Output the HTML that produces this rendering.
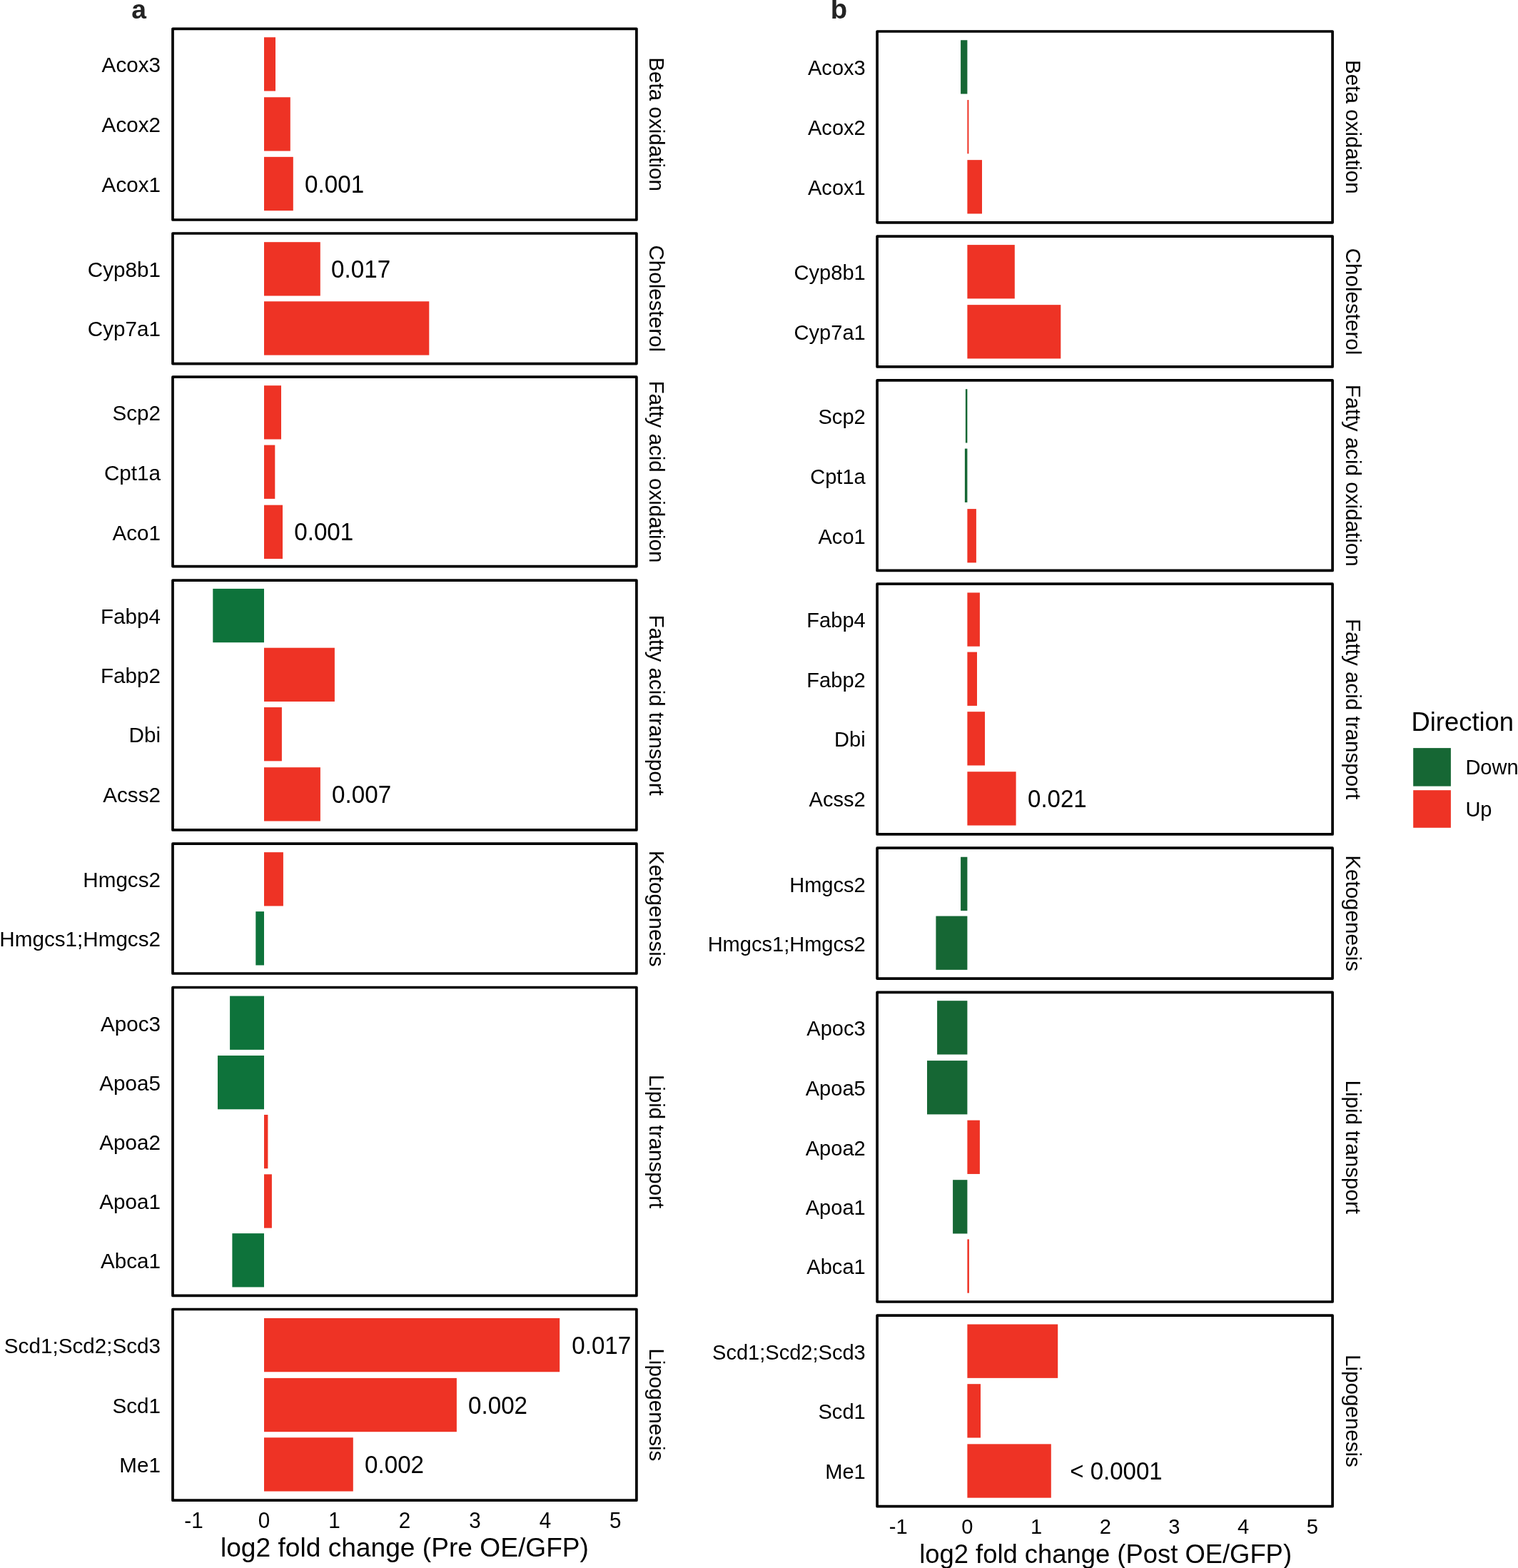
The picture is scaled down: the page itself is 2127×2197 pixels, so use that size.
<!DOCTYPE html>
<html><head><meta charset="utf-8"><title>log2 fold change</title>
<style>html,body{margin:0;padding:0;background:#fff;overflow:hidden;}svg{display:block;}text{font-family:'Liberation Sans', Arial, Helvetica, sans-serif;fill:#000;}</style>
</head><body>
<svg width="2127" height="2197" viewBox="0 0 2127 2197">
<rect x="0" y="0" width="2127" height="2197" fill="#fff"/>
<g id="panel-a">
<rect x="370" y="52.25" width="16" height="75.3" fill="#EE3325"/>
<text transform="translate(225 101.2) scale(1 1.02)" font-size="29.65" text-anchor="end">Acox3</text>
<rect x="370" y="136.25" width="36.8" height="75.3" fill="#EE3325"/>
<text transform="translate(225 185.2) scale(1 1.02)" font-size="29.65" text-anchor="end">Acox2</text>
<rect x="370" y="219.85" width="40.8" height="75.3" fill="#EE3325"/>
<text transform="translate(225 268.8) scale(1 1.02)" font-size="29.65" text-anchor="end">Acox1</text>
<text transform="translate(427.11 269.6) scale(1 1.04)" font-size="33.2">0.001</text>
<rect x="242" y="40.3" width="649.9" height="267.7" fill="none" stroke="#000" stroke-width="3.7" stroke-linejoin="round"/>
<text transform="translate(910.2 174.15) rotate(90)" font-size="29.6" text-anchor="middle">Beta oxidation</text>
<rect x="370" y="339.2" width="78.8" height="75.3" fill="#EE3325"/>
<text transform="translate(225 388.15) scale(1 1.02)" font-size="29.65" text-anchor="end">Cyp8b1</text>
<text transform="translate(464.11 388.95) scale(1 1.04)" font-size="33.2">0.017</text>
<rect x="370" y="422.3" width="231.3" height="75.3" fill="#EE3325"/>
<text transform="translate(225 471.25) scale(1 1.02)" font-size="29.65" text-anchor="end">Cyp7a1</text>
<rect x="242" y="327" width="649.9" height="182.6" fill="none" stroke="#000" stroke-width="3.7" stroke-linejoin="round"/>
<text transform="translate(910.2 418.3) rotate(90)" font-size="29.6" text-anchor="middle">Cholesterol</text>
<rect x="370" y="540.2" width="24" height="75.3" fill="#EE3325"/>
<text transform="translate(225 589.15) scale(1 1.02)" font-size="29.65" text-anchor="end">Scp2</text>
<rect x="370" y="623.6" width="15.3" height="75.3" fill="#EE3325"/>
<text transform="translate(225 672.55) scale(1 1.02)" font-size="29.65" text-anchor="end">Cpt1a</text>
<rect x="370" y="707.65" width="26" height="75.3" fill="#EE3325"/>
<text transform="translate(225 756.6) scale(1 1.02)" font-size="29.65" text-anchor="end">Aco1</text>
<text transform="translate(412.21 757.4) scale(1 1.04)" font-size="33.2">0.001</text>
<rect x="242" y="528.2" width="649.9" height="265.4" fill="none" stroke="#000" stroke-width="3.7" stroke-linejoin="round"/>
<text transform="translate(910.2 660.9) rotate(90)" font-size="29.6" text-anchor="middle">Fatty acid oxidation</text>
<rect x="298.3" y="824.9" width="71.7" height="75.3" fill="#0E733B"/>
<text transform="translate(225 873.85) scale(1 1.02)" font-size="29.65" text-anchor="end">Fabp4</text>
<rect x="370" y="907.7" width="98.9" height="75.3" fill="#EE3325"/>
<text transform="translate(225 956.65) scale(1 1.02)" font-size="29.65" text-anchor="end">Fabp2</text>
<rect x="370" y="991.05" width="24.9" height="75.3" fill="#EE3325"/>
<text transform="translate(225 1040) scale(1 1.02)" font-size="29.65" text-anchor="end">Dbi</text>
<rect x="370" y="1075.2" width="78.9" height="75.3" fill="#EE3325"/>
<text transform="translate(225 1124.15) scale(1 1.02)" font-size="29.65" text-anchor="end">Acss2</text>
<text transform="translate(465.11 1124.95) scale(1 1.04)" font-size="33.2">0.007</text>
<rect x="242" y="813.2" width="649.9" height="349.7" fill="none" stroke="#000" stroke-width="3.7" stroke-linejoin="round"/>
<text transform="translate(910.2 988.05) rotate(90)" font-size="29.6" text-anchor="middle">Fatty acid transport</text>
<rect x="370" y="1194.15" width="26.9" height="75.3" fill="#EE3325"/>
<text transform="translate(225 1243.1) scale(1 1.02)" font-size="29.65" text-anchor="end">Hmgcs2</text>
<rect x="358.3" y="1277.15" width="11.7" height="75.3" fill="#0E733B"/>
<text transform="translate(225 1326.1) scale(1 1.02)" font-size="29.65" text-anchor="end">Hmgcs1;Hmgcs2</text>
<rect x="242" y="1182.2" width="649.9" height="181.8" fill="none" stroke="#000" stroke-width="3.7" stroke-linejoin="round"/>
<text transform="translate(910.2 1273.1) rotate(90)" font-size="29.6" text-anchor="middle">Ketogenesis</text>
<rect x="322.1" y="1395.55" width="47.9" height="75.3" fill="#0E733B"/>
<text transform="translate(225 1444.5) scale(1 1.02)" font-size="29.65" text-anchor="end">Apoc3</text>
<rect x="305" y="1479" width="65" height="75.3" fill="#0E733B"/>
<text transform="translate(225 1527.95) scale(1 1.02)" font-size="29.65" text-anchor="end">Apoa5</text>
<rect x="370" y="1561.95" width="5.4" height="75.3" fill="#EE3325"/>
<text transform="translate(225 1610.9) scale(1 1.02)" font-size="29.65" text-anchor="end">Apoa2</text>
<rect x="370" y="1645.35" width="10.9" height="75.3" fill="#EE3325"/>
<text transform="translate(225 1694.3) scale(1 1.02)" font-size="29.65" text-anchor="end">Apoa1</text>
<rect x="325.4" y="1728.15" width="44.6" height="75.3" fill="#0E733B"/>
<text transform="translate(225 1777.1) scale(1 1.02)" font-size="29.65" text-anchor="end">Abca1</text>
<rect x="242" y="1383.5" width="649.9" height="431.9" fill="none" stroke="#000" stroke-width="3.7" stroke-linejoin="round"/>
<text transform="translate(910.2 1599.45) rotate(90)" font-size="29.6" text-anchor="middle">Lipid transport</text>
<rect x="370" y="1846.95" width="414.2" height="75.3" fill="#EE3325"/>
<text transform="translate(225 1895.9) scale(1 1.02)" font-size="29.65" text-anchor="end">Scd1;Scd2;Scd3</text>
<text transform="translate(801.21 1896.7) scale(1 1.04)" font-size="33.2">0.017</text>
<rect x="370" y="1930.9" width="269.9" height="75.3" fill="#EE3325"/>
<text transform="translate(225 1979.85) scale(1 1.02)" font-size="29.65" text-anchor="end">Scd1</text>
<text transform="translate(656.01 1980.65) scale(1 1.04)" font-size="33.2">0.002</text>
<rect x="370" y="2014.25" width="124.8" height="75.3" fill="#EE3325"/>
<text transform="translate(225 2063.2) scale(1 1.02)" font-size="29.65" text-anchor="end">Me1</text>
<text transform="translate(511.01 2064) scale(1 1.04)" font-size="33.2">0.002</text>
<rect x="242" y="1834.5" width="649.9" height="267.7" fill="none" stroke="#000" stroke-width="3.7" stroke-linejoin="round"/>
<text transform="translate(910.2 1968.35) rotate(90)" font-size="29.6" text-anchor="middle">Lipogenesis</text>
<text transform="translate(271.53 2140.6) scale(1 1.04)" font-size="29.65" text-anchor="middle">-1</text>
<text transform="translate(370 2140.6) scale(1 1.04)" font-size="29.65" text-anchor="middle">0</text>
<text transform="translate(468.47 2140.6) scale(1 1.04)" font-size="29.65" text-anchor="middle">1</text>
<text transform="translate(566.94 2140.6) scale(1 1.04)" font-size="29.65" text-anchor="middle">2</text>
<text transform="translate(665.41 2140.6) scale(1 1.04)" font-size="29.65" text-anchor="middle">3</text>
<text transform="translate(763.88 2140.6) scale(1 1.04)" font-size="29.65" text-anchor="middle">4</text>
<text transform="translate(862.35 2140.6) scale(1 1.04)" font-size="29.65" text-anchor="middle">5</text>
<text x="566.95" y="2180.7" font-size="37.15" text-anchor="middle">log2 fold change (Pre OE/GFP)</text>
<text x="184.3" y="26" font-size="37.3" font-weight="bold" style="fill:#232323">a</text>
</g>
<g id="panel-b">
<rect x="1346.1" y="56.25" width="9.3" height="75.3" fill="#166734"/>
<text transform="translate(1212.7 105.2) scale(1 1.02)" font-size="29.05" text-anchor="end">Acox3</text>
<rect x="1355.4" y="140.05" width="2" height="75.3" fill="#EE3325"/>
<text transform="translate(1212.7 189) scale(1 1.02)" font-size="29.05" text-anchor="end">Acox2</text>
<rect x="1355.4" y="224.15" width="20.6" height="75.3" fill="#EE3325"/>
<text transform="translate(1212.7 273.1) scale(1 1.02)" font-size="29.05" text-anchor="end">Acox1</text>
<rect x="1229.1" y="44" width="638" height="267.8" fill="none" stroke="#000" stroke-width="3.7" stroke-linejoin="round"/>
<text transform="translate(1885.5 177.9) rotate(90)" font-size="29.6" text-anchor="middle">Beta oxidation</text>
<rect x="1355.4" y="343.1" width="66.4" height="75.3" fill="#EE3325"/>
<text transform="translate(1212.7 392.05) scale(1 1.02)" font-size="29.05" text-anchor="end">Cyp8b1</text>
<rect x="1355.4" y="427.15" width="130.9" height="75.3" fill="#EE3325"/>
<text transform="translate(1212.7 476.1) scale(1 1.02)" font-size="29.05" text-anchor="end">Cyp7a1</text>
<rect x="1229.1" y="331.1" width="638" height="182.8" fill="none" stroke="#000" stroke-width="3.7" stroke-linejoin="round"/>
<text transform="translate(1885.5 422.5) rotate(90)" font-size="29.6" text-anchor="middle">Cholesterol</text>
<rect x="1352.9" y="545.2" width="2.5" height="75.3" fill="#166734"/>
<text transform="translate(1212.7 594.15) scale(1 1.02)" font-size="29.05" text-anchor="end">Scp2</text>
<rect x="1351.9" y="628.6" width="3.5" height="75.3" fill="#166734"/>
<text transform="translate(1212.7 677.55) scale(1 1.02)" font-size="29.05" text-anchor="end">Cpt1a</text>
<rect x="1355.4" y="713.1" width="12.5" height="75.3" fill="#EE3325"/>
<text transform="translate(1212.7 762.05) scale(1 1.02)" font-size="29.05" text-anchor="end">Aco1</text>
<rect x="1229.1" y="532.9" width="638" height="266.5" fill="none" stroke="#000" stroke-width="3.7" stroke-linejoin="round"/>
<text transform="translate(1885.5 666.15) rotate(90)" font-size="29.6" text-anchor="middle">Fatty acid oxidation</text>
<rect x="1355.4" y="830.4" width="17.5" height="75.3" fill="#EE3325"/>
<text transform="translate(1212.7 879.35) scale(1 1.02)" font-size="29.05" text-anchor="end">Fabp4</text>
<rect x="1355.4" y="913.6" width="13.6" height="75.3" fill="#EE3325"/>
<text transform="translate(1212.7 962.55) scale(1 1.02)" font-size="29.05" text-anchor="end">Fabp2</text>
<rect x="1355.4" y="997.2" width="24.6" height="75.3" fill="#EE3325"/>
<text transform="translate(1212.7 1046.15) scale(1 1.02)" font-size="29.05" text-anchor="end">Dbi</text>
<rect x="1355.4" y="1081.25" width="68.2" height="75.3" fill="#EE3325"/>
<text transform="translate(1212.7 1130.2) scale(1 1.02)" font-size="29.05" text-anchor="end">Acss2</text>
<text transform="translate(1440.11 1131) scale(1 1.04)" font-size="33.0">0.021</text>
<rect x="1229.1" y="818.2" width="638" height="350.7" fill="none" stroke="#000" stroke-width="3.7" stroke-linejoin="round"/>
<text transform="translate(1885.5 993.55) rotate(90)" font-size="29.6" text-anchor="middle">Fatty acid transport</text>
<rect x="1346.1" y="1200.75" width="9.3" height="75.3" fill="#166734"/>
<text transform="translate(1212.7 1249.7) scale(1 1.02)" font-size="29.05" text-anchor="end">Hmgcs2</text>
<rect x="1311.4" y="1283.55" width="44" height="75.3" fill="#166734"/>
<text transform="translate(1212.7 1332.5) scale(1 1.02)" font-size="29.05" text-anchor="end">Hmgcs1;Hmgcs2</text>
<rect x="1229.1" y="1188.2" width="638" height="182.9" fill="none" stroke="#000" stroke-width="3.7" stroke-linejoin="round"/>
<text transform="translate(1885.5 1279.65) rotate(90)" font-size="29.6" text-anchor="middle">Ketogenesis</text>
<rect x="1313.1" y="1402.2" width="42.3" height="75.3" fill="#166734"/>
<text transform="translate(1212.7 1451.15) scale(1 1.02)" font-size="29.05" text-anchor="end">Apoc3</text>
<rect x="1299" y="1486.1" width="56.4" height="75.3" fill="#166734"/>
<text transform="translate(1212.7 1535.05) scale(1 1.02)" font-size="29.05" text-anchor="end">Apoa5</text>
<rect x="1355.4" y="1569.65" width="17.5" height="75.3" fill="#EE3325"/>
<text transform="translate(1212.7 1618.6) scale(1 1.02)" font-size="29.05" text-anchor="end">Apoa2</text>
<rect x="1335.1" y="1653.2" width="20.3" height="75.3" fill="#166734"/>
<text transform="translate(1212.7 1702.15) scale(1 1.02)" font-size="29.05" text-anchor="end">Apoa1</text>
<rect x="1355.4" y="1736.4" width="2.5" height="75.3" fill="#EE3325"/>
<text transform="translate(1212.7 1785.35) scale(1 1.02)" font-size="29.05" text-anchor="end">Abca1</text>
<rect x="1229.1" y="1390.4" width="638" height="433.6" fill="none" stroke="#000" stroke-width="3.7" stroke-linejoin="round"/>
<text transform="translate(1885.5 1607.2) rotate(90)" font-size="29.6" text-anchor="middle">Lipid transport</text>
<rect x="1355.4" y="1855.55" width="126.8" height="75.3" fill="#EE3325"/>
<text transform="translate(1212.7 1904.5) scale(1 1.02)" font-size="29.05" text-anchor="end">Scd1;Scd2;Scd3</text>
<rect x="1355.4" y="1939.2" width="18.6" height="75.3" fill="#EE3325"/>
<text transform="translate(1212.7 1988.15) scale(1 1.02)" font-size="29.05" text-anchor="end">Scd1</text>
<rect x="1355.4" y="2023.35" width="117.4" height="75.3" fill="#EE3325"/>
<text transform="translate(1212.7 2072.3) scale(1 1.02)" font-size="29.05" text-anchor="end">Me1</text>
<text transform="translate(1499.28 2073.1) scale(1 1.04)" font-size="33.0">&lt; 0.0001</text>
<rect x="1229.1" y="1843.2" width="638" height="267.5" fill="none" stroke="#000" stroke-width="3.7" stroke-linejoin="round"/>
<text transform="translate(1885.5 1976.95) rotate(90)" font-size="29.6" text-anchor="middle">Lipogenesis</text>
<text transform="translate(1258.73 2149) scale(1 1.04)" font-size="29.05" text-anchor="middle">-1</text>
<text transform="translate(1355.4 2149) scale(1 1.04)" font-size="29.05" text-anchor="middle">0</text>
<text transform="translate(1452.07 2149) scale(1 1.04)" font-size="29.05" text-anchor="middle">1</text>
<text transform="translate(1548.73 2149) scale(1 1.04)" font-size="29.05" text-anchor="middle">2</text>
<text transform="translate(1645.4 2149) scale(1 1.04)" font-size="29.05" text-anchor="middle">3</text>
<text transform="translate(1742.07 2149) scale(1 1.04)" font-size="29.05" text-anchor="middle">4</text>
<text transform="translate(1838.73 2149) scale(1 1.04)" font-size="29.05" text-anchor="middle">5</text>
<text x="1549.1" y="2190.4" font-size="36.4" text-anchor="middle">log2 fold change (Post OE/GFP)</text>
<text x="1163.8" y="26.3" font-size="38.3" font-weight="bold" style="fill:#232323">b</text>
</g>
<g id="legend">
<text x="1977.5" y="1023.9" font-size="36.4">Direction</text>
<rect x="1980.2" y="1048.1" width="52.7" height="53.5" fill="#166734"/>
<rect x="1980.2" y="1107.2" width="52.7" height="52.6" fill="#EE3325"/>
<text transform="translate(2053.4 1085.3) scale(1 1.02)" font-size="29.05">Down</text>
<text transform="translate(2053.4 1143.6) scale(1 1.02)" font-size="29.05">Up</text>
</g>
</svg>
</body></html>
